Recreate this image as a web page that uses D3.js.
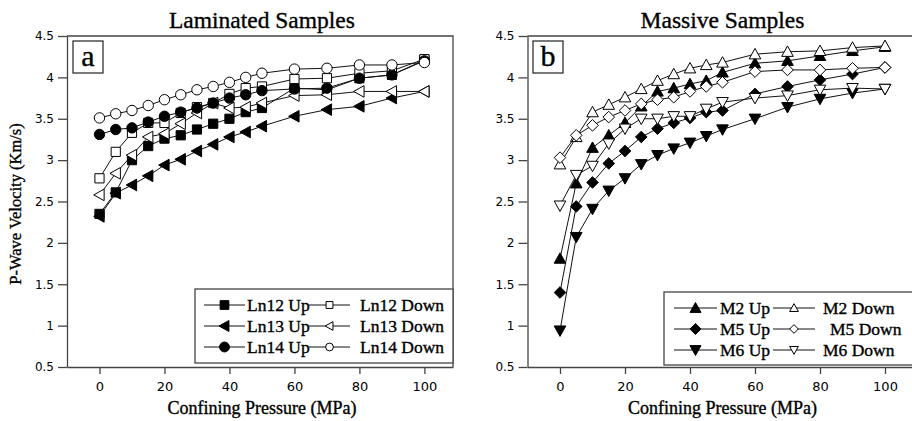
<!DOCTYPE html>
<html>
<head>
<meta charset="utf-8">
<script src="https://cdn.jsdelivr.net/npm/d3@7"></script>
<style>
  body { margin: 0; background: #fff; }
  .tick text { font-family: "DejaVu Sans", sans-serif; font-size: 12px; fill: #000; }
  .serif { font-family: 'Liberation Serif', 'Times New Roman', serif; stroke: #000; stroke-width: 0.35px; }
</style>
</head>
<body>
<div id="chart"></div>
<script>
// confining pressure steps (MPa), same for every series
const pressure = [0, 5, 10, 15, 20, 25, 30, 35, 40, 45, 50, 60, 70, 80, 90, 100];

// laminated samples
const ln12Up   = [2.35, 2.61, 3.00, 3.17, 3.26, 3.30, 3.37, 3.44, 3.50, 3.58, 3.63, 3.87, 3.85, 3.99, 4.03, 4.21];
const ln12Down = [2.78, 3.10, 3.33, 3.45, 3.45, 3.57, 3.64, 3.69, 3.80, 3.87, 3.89, 3.98, 3.99, 4.05, 4.08, 4.22];
const ln13Up   = [2.32, 2.60, 2.70, 2.81, 2.94, 3.01, 3.11, 3.19, 3.28, 3.34, 3.41, 3.53, 3.61, 3.65, 3.75, 3.83];
const ln13Down = [2.58, 2.84, 3.06, 3.28, 3.32, 3.44, 3.57, 3.69, 3.63, 3.64, 3.69, 3.78, 3.79, 3.83, 3.83, 3.83];
const ln14Up   = [3.31, 3.37, 3.39, 3.46, 3.53, 3.58, 3.63, 3.69, 3.75, 3.79, 3.84, 3.86, 3.87, 3.99, 4.03, 4.20];
const ln14Down = [3.51, 3.56, 3.60, 3.66, 3.73, 3.79, 3.85, 3.89, 3.94, 4.00, 4.05, 4.10, 4.11, 4.15, 4.15, 4.18];

// massive samples
const m2Up   = [1.81, 2.72, 3.15, 3.30, 3.45, 3.65, 3.83, 3.87, 3.92, 3.96, 4.06, 4.17, 4.20, 4.26, 4.32, 4.37];
const m2Down = [2.95, 3.28, 3.58, 3.67, 3.76, 3.86, 3.96, 4.04, 4.11, 4.15, 4.18, 4.28, 4.31, 4.32, 4.36, 4.38];
const m5Up   = [1.40, 2.44, 2.73, 2.96, 3.11, 3.28, 3.38, 3.45, 3.51, 3.58, 3.60, 3.80, 3.89, 3.97, 4.04, 4.12];
const m5Down = [3.03, 3.30, 3.42, 3.52, 3.60, 3.68, 3.73, 3.76, 3.83, 3.89, 3.94, 4.07, 4.09, 4.09, 4.11, 4.12];
const m6Up   = [0.94, 2.07, 2.41, 2.63, 2.78, 2.95, 3.06, 3.14, 3.21, 3.29, 3.37, 3.50, 3.64, 3.74, 3.81, 3.86];
const m6Down = [2.45, 2.82, 2.93, 3.20, 3.38, 3.50, 3.50, 3.53, 3.53, 3.62, 3.70, 3.75, 3.78, 3.85, 3.87, 3.86];

const yTicks = [0.5, 1, 1.5, 2, 2.5, 3, 3.5, 4, 4.5];
const xTicks = [0, 20, 40, 60, 80, 100];

const W = 912, H = 421;

const svg = d3.select("#chart").append("svg")
  .attr("width", W).attr("height", H);

// marker shapes centred on 0,0
function shapePath(shape, s) {
  switch (shape) {
    case "square": return `M${-s},${-s}h${2*s}v${2*s}h${-2*s}Z`;
    case "circle": return `M${s},0A${s},${s} 0 1,1 ${-s},0A${s},${s} 0 1,1 ${s},0Z`;
    case "triUp": return `M0,${-s}L${s},${s*0.8}L${-s},${s*0.8}Z`;
    case "triDown": return `M0,${s}L${s},${-s*0.8}L${-s},${-s*0.8}Z`;
    case "triLeft": return `M${-s},0L${s*0.8},${-s}L${s*0.8},${s}Z`;
    case "diamond": return `M0,${-s}L${s},0L0,${s}L${-s},0Z`;
  }
}
const markerSize = {square: 4.6, circle: 5.2, triUp: 5.8, triDown: 5.8, triLeft: 5.8, diamond: 5.8};

const y = d3.scaleLinear().domain([0.5, 4.5]).range([367, 36]);

function panel(opts) {
  const x = d3.scaleLinear().domain(opts.xDomain).range(opts.xRange);
  const g = svg.append("g");
  const x0 = opts.xRange[0], x1 = opts.xRange[1];

  // frame top / right
  g.append("path")
    .attr("d", `M${x0},${y(4.5)}H${x1}V${y(0.5)}`)
    .attr("fill", "none").attr("stroke", "#444").attr("stroke-width", 1.3);

  g.append("g")
    .attr("transform", `translate(0,${y(0.5)})`)
    .call(d3.axisBottom(x).tickValues(xTicks).tickSize(7).tickPadding(8).tickSizeOuter(0))
    .call(a => a.select(".domain").attr("stroke", "#444").attr("stroke-width", 1.3))
    .call(a => a.selectAll(".tick line").attr("stroke", "#444").attr("stroke-width", 1.3))
    .call(a => a.selectAll(".tick text").style("font-size", "13px"));

  g.append("g")
    .attr("transform", `translate(${x0},0)`)
    .call(d3.axisLeft(y).tickValues(yTicks).tickFormat(d3.format("")).tickSize(9).tickPadding(4).tickSizeOuter(0))
    .call(a => a.select(".domain").attr("stroke", "#444").attr("stroke-width", 1.3))
    .call(a => a.selectAll(".tick line").attr("stroke", "#444").attr("stroke-width", 1.3));

  // title
  g.append("text").attr("class", "serif")
    .attr("x", x(50)).attr("y", 28)
    .attr("text-anchor", "middle")
    .style("font-size", "23.5px")
    .text(opts.title);

  // x axis title
  g.append("text").attr("class", "serif")
    .attr("x", x(50)).attr("y", 414)
    .attr("text-anchor", "middle")
    .style("font-size", "18px")
    .text("Confining Pressure (MPa)");

  // panel letter
  g.append("rect")
    .attr("x", opts.letterBox[0]).attr("y", 41).attr("width", 30).attr("height", 32)
    .attr("fill", "#fff").attr("stroke", "#222").attr("stroke-width", 1.2);
  g.append("text").attr("class", "serif")
    .attr("x", opts.letterBox[0] + 15).attr("y", 66)
    .attr("text-anchor", "middle")
    .style("font-size", "30px")
    .text(opts.letter);

  const line = d3.line().x((d, i) => x(pressure[i])).y(d => y(d));

  opts.series.forEach(s => {
    g.append("path")
      .datum(s.values)
      .attr("fill", "none").attr("stroke", "#111").attr("stroke-width", 1)
      .attr("d", line);
    g.selectAll(null)
      .data(s.values)
      .enter().append("path")
      .attr("transform", (d, i) => `translate(${x(pressure[i])},${y(d)})`)
      .attr("d", shapePath(s.shape, markerSize[s.shape]))
      .attr("fill", s.filled ? "#000" : "#fff")
      .attr("stroke", "#000").attr("stroke-width", 1);
  });

  // legend
  const L = opts.legend;
  g.append("rect")
    .attr("x", L.x).attr("y", L.y).attr("width", L.w).attr("height", L.h)
    .attr("fill", "#fff").attr("stroke", "#444").attr("stroke-width", 1.3);
  const rows = [[0, 1], [2, 3], [4, 5]];
  rows.forEach((pair, r) => {
    const ry = L.y + 16 + r * 21;
    pair.forEach((si, c) => {
      const s = opts.series[si];
      const col = L.cols[c];
      g.append("line")
        .attr("x1", col.l0).attr("x2", col.l1).attr("y1", ry).attr("y2", ry)
        .attr("stroke", "#111").attr("stroke-width", 1);
      g.append("path")
        .attr("transform", `translate(${(col.l0 + col.l1) / 2},${ry})`)
        .attr("d", shapePath(s.shape, markerSize[s.shape] * (s.filled ? 0.95 : 0.75)))
        .attr("fill", s.filled ? "#000" : "#fff")
        .attr("stroke", "#000").attr("stroke-width", 1);
      g.append("text").attr("class", "serif")
        .attr("x", col.t + (s.indent || 0)).attr("y", ry)
        .attr("dominant-baseline", "central")
        .style("font-size", "17.5px")
        .text(s.name);
    });
  });
}

panel({
  title: "Laminated Samples",
  letter: "a",
  letterBox: [73],
  xDomain: [-10, 108.8],
  xRange: [67, 453],
  series: [
    {name: "Ln12 Up", values: ln12Up, shape: "square", filled: true},
    {name: "Ln12 Down", values: ln12Down, shape: "square", filled: false},
    {name: "Ln13 Up", values: ln13Up, shape: "triLeft", filled: true},
    {name: "Ln13 Down", values: ln13Down, shape: "triLeft", filled: false},
    {name: "Ln14 Up", values: ln14Up, shape: "circle", filled: true},
    {name: "Ln14 Down", values: ln14Down, shape: "circle", filled: false}
  ],
  legend: {x: 195, y: 289, w: 258, h: 74,
    cols: [{l0: 204, l1: 245, t: 247}, {l0: 309, l1: 350, t: 360}]}
});

panel({
  title: "Massive Samples",
  letter: "b",
  letterBox: [533],
  xDomain: [-10, 110],
  xRange: [527.5, 917.5],
  series: [
    {name: "M2 Up", values: m2Up, shape: "triUp", filled: true},
    {name: "M2 Down", values: m2Down, shape: "triUp", filled: false},
    {name: "M5 Up", values: m5Up, shape: "diamond", filled: true},
    {name: "M5 Down", values: m5Down, shape: "diamond", filled: false, indent: 7},
    {name: "M6 Up", values: m6Up, shape: "triDown", filled: true},
    {name: "M6 Down", values: m6Down, shape: "triDown", filled: false}
  ],
  legend: {x: 664, y: 292, w: 260, h: 73,
    cols: [{l0: 674, l1: 717, t: 720}, {l0: 773, l1: 815, t: 823}]}
});

// y axis title on the left panel
svg.append("text").attr("class", "serif")
  .attr("transform", "translate(21,204) rotate(-90)")
  .attr("text-anchor", "middle")
  .style("font-size", "16.5px")
  .text("P-Wave Velocity (Km/s)");
</script>
</body>
</html>
